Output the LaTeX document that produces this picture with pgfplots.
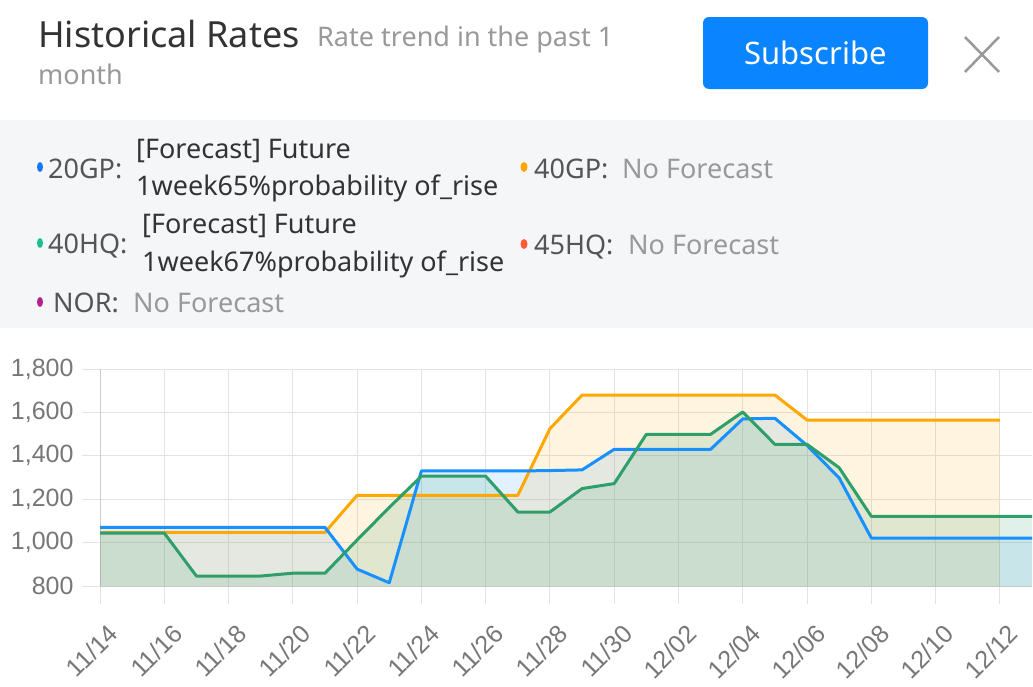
\documentclass[border=0pt]{standalone}
\usepackage{fontspec}
\setmainfont{Noto Sans}
\newfontfamily\arialfont{Liberation Sans}
\usepackage{pgfplots}
\usepackage{pgfplotstable}
\pgfplotsset{compat=1.18}
\definecolor{cblue}{HTML}{1890FF}
\definecolor{corange}{HTML}{FFA800}
\definecolor{cgreen}{HTML}{2E9E6B}
\definecolor{dblue}{HTML}{1677FF}
\definecolor{dorange}{HTML}{FFA500}
\definecolor{dteal}{HTML}{1DBF8E}
\definecolor{dred}{HTML}{FF5A36}
\definecolor{dpurple}{HTML}{B5218F}
\definecolor{gridgray}{HTML}{E3E3E3}
\definecolor{axisgray}{HTML}{CCCCCC}
\definecolor{labelgray}{HTML}{777777}
\definecolor{panelgray}{HTML}{F5F6F8}
\definecolor{titlec}{HTML}{333333}
\definecolor{subc}{HTML}{999999}
\definecolor{legc}{HTML}{555555}
\definecolor{btnblue}{HTML}{0A84FF}

\pgfplotstableread{
d v
0 1070
1 1070
2 1070
3 1070
4 1070
5 1070
6 1070
7 1070
8 878
9 815
10 1330
11 1330
12 1330
13 1330
14 1332
15 1335
16 1430
17 1430
18 1430
19 1430
20 1570
21 1573
22 1448
23 1298
24 1021
25 1021
26 1021
27 1021
28 1021
29 1021
}\tblBlue

\pgfplotstableread{
d v
0 1047
1 1047
2 1047
3 1047
4 1047
5 1047
6 1047
7 1047
8 1218
9 1218
10 1218
11 1218
12 1218
13 1218
14 1525
15 1680
16 1680
17 1680
18 1680
19 1680
20 1680
21 1680
22 1565
23 1565
24 1565
25 1565
26 1565
27 1565
28 1565
}\tblOrange

\pgfplotstableread{
d v
0 1044
1 1044
2 1044
3 846
4 846
5 846
6 859
7 859
8 1012
9 1162
10 1306
11 1306
12 1306
13 1141
14 1141
15 1249
16 1272
17 1499
18 1499
19 1499
20 1602
21 1453
22 1453
23 1345
24 1121
25 1121
26 1121
27 1121
28 1121
29 1121
}\tblGreen

\begin{document}
\begin{tikzpicture}
\useasboundingbox (0,0) rectangle (1033bp,-687bp);
\fill[white] (0,0) rectangle (1033bp,-687bp);
% header
\node[anchor=base west, inner sep=0, text=titlec, font=\fontsize{36bp}{42bp}\selectfont] at (38bp,-47bp) {Historical Rates};
\node[anchor=base west, inner sep=0, text=subc, font=\fontsize{27bp}{32bp}\selectfont] at (317bp,-46bp) {Rate trend in the past 1};
\node[anchor=base west, inner sep=0, text=subc, font=\fontsize{27bp}{32bp}\selectfont] at (38bp,-84bp) {month};
\fill[btnblue, rounded corners=6bp] (703bp,-17bp) rectangle (928bp,-89bp);
\node[anchor=base, inner sep=0, text=white, font=\fontsize{31bp}{36bp}\selectfont] at (815.5bp,-64bp) {Subscribe};
\draw[subc, line width=2.5bp] (965bp,-37bp) -- (999bp,-72bp);
\draw[subc, line width=2.5bp] (999bp,-37bp) -- (965bp,-72bp);
% legend panel
\fill[panelgray] (0,-120bp) rectangle (1033bp,-328bp);
\fill[dblue] (40bp,-167bp) ellipse (3bp and 5bp);
\node[anchor=base west, inner sep=0, text=legc, font=\fontsize{27bp}{32bp}\selectfont] at (48bp,-178bp) {20GP:};
\node[anchor=base west, inner sep=0, text=titlec, font=\fontsize{27bp}{32bp}\selectfont] at (136bp,-158bp) {[Forecast] Future};
\node[anchor=base west, inner sep=0, text=titlec, font=\fontsize{27bp}{32bp}\selectfont] at (136bp,-195bp) {1week65\%probability of\_rise};
\fill[dteal] (40bp,-243bp) ellipse (3bp and 5bp);
\node[anchor=base west, inner sep=0, text=legc, font=\fontsize{27bp}{32bp}\selectfont] at (48bp,-253bp) {40HQ:};
\node[anchor=base west, inner sep=0, text=titlec, font=\fontsize{27bp}{32bp}\selectfont] at (142bp,-233bp) {[Forecast] Future};
\node[anchor=base west, inner sep=0, text=titlec, font=\fontsize{27bp}{32bp}\selectfont] at (142bp,-271bp) {1week67\%probability of\_rise};
\fill[dpurple] (40bp,-302bp) ellipse (3bp and 5bp);
\node[anchor=base west, inner sep=0, text=legc, font=\fontsize{27bp}{32bp}\selectfont] at (53bp,-312bp) {NOR:};
\node[anchor=base west, inner sep=0, text=subc, font=\fontsize{27bp}{32bp}\selectfont] at (133bp,-312bp) {No Forecast};
\fill[dorange] (524bp,-167bp) ellipse (3.5bp and 5bp);
\node[anchor=base west, inner sep=0, text=legc, font=\fontsize{27bp}{32bp}\selectfont] at (534bp,-178bp) {40GP:};
\node[anchor=base west, inner sep=0, text=subc, font=\fontsize{27bp}{32bp}\selectfont] at (622bp,-178bp) {No Forecast};
\fill[dred] (524bp,-244bp) ellipse (3.5bp and 5bp);
\node[anchor=base west, inner sep=0, text=legc, font=\fontsize{27bp}{32bp}\selectfont] at (534bp,-254bp) {45HQ:};
\node[anchor=base west, inner sep=0, text=subc, font=\fontsize{27bp}{32bp}\selectfont] at (628bp,-254bp) {No Forecast};
% chart
\begin{axis}[
  at={(100bp,-586bp)}, anchor=south west, scale only axis,
  width=932bp, height=217bp,
  xmin=0, xmax=29, ymin=800, ymax=1800,
  xtick={0,2,...,28},
  xticklabels={11/14,11/16,11/18,11/20,11/22,11/24,11/26,11/28,11/30,12/02,12/04,12/06,12/08,12/10,12/12},
  ytick={800,1000,...,1800},
  axis x line*=bottom, axis y line*=left,
  axis line style={draw=axisgray, line width=1bp, -},
  grid=major, major grid style={draw=gridgray, line width=1bp},
  tick align=outside, major tick length=18bp,
  tick style={draw=gridgray, line width=1bp},
  tick label style={text=labelgray},
  /pgf/number format/1000 sep={,},
  /pgf/number format/assume math mode=true,
  x tick label style={font=\arialfont\fontsize{25bp}{25bp}\selectfont, xshift=16bp, yshift=-23bp, rotate=45, anchor=east},
  y tick label style={font=\arialfont\fontsize{25bp}{25bp}\selectfont, anchor=east, xshift=-5bp},
]
\addplot[draw=none, fill=cblue, fill opacity=0.12] table[x=d,y=v]{\tblBlue} \closedcycle;
\addplot[draw=none, fill=corange, fill opacity=0.12] table[x=d,y=v]{\tblOrange} \closedcycle;
\addplot[draw=none, fill=cgreen, fill opacity=0.14] table[x=d,y=v]{\tblGreen} \closedcycle;
\addplot[corange, line width=3bp, line join=round] table[x=d,y=v]{\tblOrange};
\addplot[cblue, line width=3bp, line join=round] table[x=d,y=v]{\tblBlue};
\addplot[cgreen, line width=3bp, line join=round] table[x=d,y=v]{\tblGreen};
\end{axis}
\end{tikzpicture}
\end{document}
